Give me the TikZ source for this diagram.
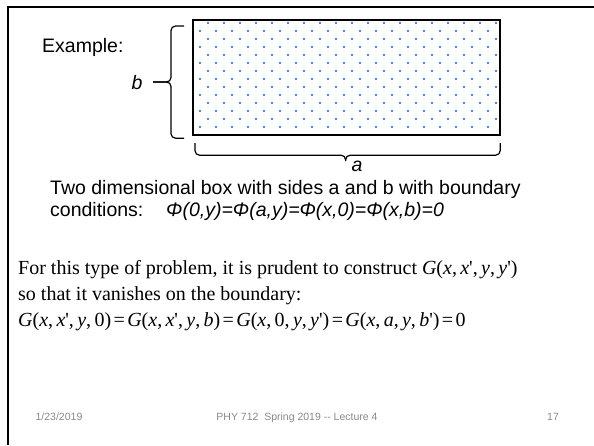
\documentclass[tikz,border=0pt]{standalone}
\usepackage{fontspec}
\setmainfont{Liberation Serif}
\newfontfamily\arialfont{Liberation Sans}
\usetikzlibrary{calc}
\definecolor{dotblue}{RGB}{80,135,200}
\definecolor{footgray}{RGB}{137,137,137}
\newcommand{\mi}[1]{\textit{#1}}
\newcommand{\pr}{\textquotesingle}
\newcommand{\eqs}{\hspace{0.12em}=\hspace{0.12em}}

\begin{document}
\begin{tikzpicture}[
  x=1pt, y=-1pt,
  sans/.style={font=\arialfont\fontsize{19.5}{23}\selectfont, inner sep=0pt, anchor=base west},
  serif/.style={font=\fontsize{20}{26}\selectfont, inner sep=0pt, anchor=base west},
  foot/.style={font=\arialfont\fontsize{10.5}{12}\selectfont, text=footgray, inner sep=0pt, anchor=base},
  brc/.style={rounded corners=4.5pt, line width=1.2pt},
  plate/.style={draw, line width=1.2pt, minimum width=306pt, minimum height=114pt, inner sep=0pt}
]
\useasboundingbox (0,0) rectangle (594,445);

% slide frame
\draw[line width=2.2pt] (8,445) -- (8,7) -- (594,7);

% the box with its dotted fill
\node[plate, anchor=north west] (box) at (193,20) {};
\begin{scope}
  \clip (box.north west) rectangle (box.south east);
  \foreach \r in {0,...,13}
    \foreach \c in {0,...,19}
      \fill[dotblue] ({200+16*\c+8*mod(\r+1,2)-0.7}, {23+8*\r-0.7}) rectangle ++(1.4,1.4);
\end{scope}
\draw[line width=1.2pt] (box.north west) rectangle (box.south east);

% brace for side b
\coordinate (bjoin) at ($(box.north west)+(-22,62)$);
\coordinate (btip) at ($(box.north west)+(-40,62)$);
\draw[brc] ($(box.north west)+(-9,6)$) -- ($(box.north west)+(-22,6)$) -- (bjoin) -- (btip);
\draw[brc] ($(box.south west)+(-9,3)$) -- ($(box.south west)+(-22,3)$) -- (bjoin) -- (btip);

% brace for side a
\coordinate (ajoin) at ($(box.south)+(-1,20)$);
\coordinate (atip) at ($(box.south)+(-1,26)$);
\draw[brc] ($(box.south west)+(2,8)$) -- ($(box.south west)+(2,20)$) -- (ajoin) -- (atip);
\draw[brc] ($(box.south east)+(0,8)$) -- ($(box.south east)+(0,20)$) -- (ajoin) -- (atip);

\node[sans, anchor=base] (blbl) at (137,89) {\itshape b};
\node[sans, anchor=base] (albl) at (357,171) {\itshape a};

\node[sans] (example) at (42,52) {Example:};

\node[sans] (desc) at (50,194) {Two dimensional box with sides a and b with boundary};
\node[sans] (cond) at (50,216) {conditions:\hspace{0.8em} {\itshape Φ(0,y)=Φ(a,y)=Φ(x,0)=Φ(x,b)=0}};

\node[serif] (para) at (18,274) {For this type of problem, it is prudent to construct
  \mi{G}(\mi{x},\,\mi{x}\pr,\,\mi{y},\,\mi{y}\pr)};
\node[serif] (para2) at (18,300) {so that it vanishes on the boundary:};
\node[serif] (bc) at (18,326) {\mi{G}(\mi{x},\,\mi{x}\pr,\,\mi{y},\,0)\eqs\mi{G}(\mi{x},\,\mi{x}\pr,\,\mi{y},\,\mi{b})\eqs\mi{G}(\mi{x},\,0,\,\mi{y},\,\mi{y}\pr)\eqs\mi{G}(\mi{x},\,\mi{a},\,\mi{y},\,\mi{b}\pr)\eqs0};

% footer
\node[foot] (date) at (59,420) {1/23/2019};
\node[foot] (course) at (297,420) {PHY 712\ \ Spring 2019 -- Lecture 4};
\node[foot] (page) at (553,420) {17};
\end{tikzpicture}
\end{document}
